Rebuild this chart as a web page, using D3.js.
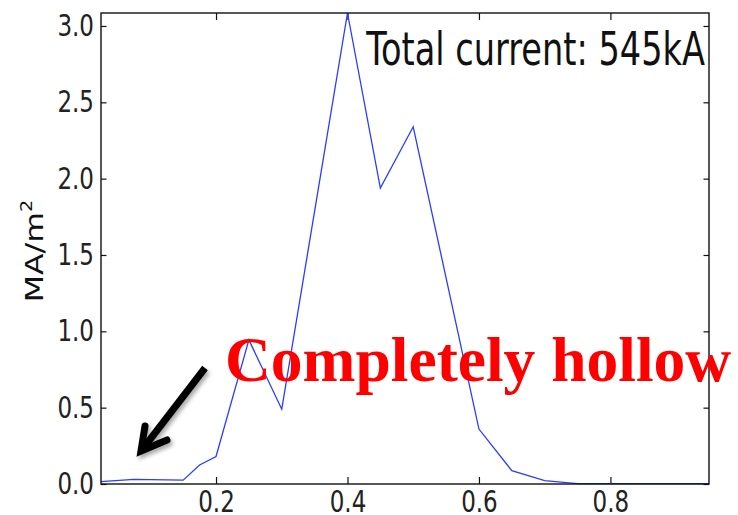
<!DOCTYPE html>
<html>
<head>
<meta charset="utf-8">
<script src="https://cdn.jsdelivr.net/npm/d3@7"></script>
<style>
  html, body { margin: 0; padding: 0; background: #fff; }
  svg { display: block; }
</style>
</head>
<body>
<svg id="chart" width="738" height="515"></svg>
<script>
// Radial profile of current density
const radius = [0.025, 0.075, 0.15, 0.175, 0.2, 0.25, 0.3, 0.4, 0.45, 0.5, 0.6, 0.65, 0.7, 0.75, 0.8, 0.85, 0.9, 0.95];
const density = [0.015, 0.03, 0.025, 0.125, 0.18, 0.944, 0.49, 3.085, 1.938, 2.34, 0.36, 0.087, 0.022, 0.003, 0.002, 0.002, 0.002, 0.002];
const xTicks = [0.2, 0.4, 0.6, 0.8];
const yTicks = [0.0, 0.5, 1.0, 1.5, 2.0, 2.5, 3.0];
const totalLabel = "Total current: 545kA";
const noteLabel = "Completely hollow";

const svg = d3.select("#chart");
const margin = { left: 101, right: 29, top: 13, bottom: 31 };
const W = 738, H = 515;
const plotW = W - margin.left - margin.right;
const plotH = H - margin.top - margin.bottom;

// The plot is drawn with a taller-than-wide text aspect
const stretch = 1.28;

const x = d3.scaleLinear().domain([0.025, 0.95]).range([0, plotW]);
const y = d3.scaleLinear().domain([0, 3.085]).range([plotH, 0]);

const g = svg.append("g").attr("transform", `translate(${margin.left},${margin.top})`);

const tickFont = "'DejaVu Sans', sans-serif";
const fmt = d3.format(".1f");

// Bottom axis with labels, inward ticks
const axBottom = g.append("g").attr("transform", `translate(0,${plotH})`)
  .call(d3.axisBottom(x).tickValues(xTicks).tickFormat(fmt).tickSizeInner(-7).tickSizeOuter(0));
// Top axis, ticks only
const axTop = g.append("g")
  .call(d3.axisTop(x).tickValues(xTicks).tickFormat("").tickSizeInner(-7).tickSizeOuter(0));
// Left axis with labels
const axLeft = g.append("g")
  .call(d3.axisLeft(y).tickValues(yTicks).tickFormat(fmt).tickSizeInner(-5.5).tickSizeOuter(0));
// Right axis, ticks only
const axRight = g.append("g").attr("transform", `translate(${plotW},0)`)
  .call(d3.axisRight(y).tickValues(yTicks).tickFormat("").tickSizeInner(-5.5).tickSizeOuter(0));

[axBottom, axTop, axLeft, axRight].forEach(a => {
  a.select(".domain").remove();
  a.selectAll(".tick line").attr("stroke", "#111").attr("stroke-width", 1.2);
  a.selectAll(".tick text")
    .attr("font-family", tickFont).attr("font-size", 23).attr("fill", "#222")
    .attr("x", null).attr("y", null).attr("dy", null);
});
axBottom.selectAll(".tick text")
  .attr("text-anchor", "middle")
  .attr("transform", `translate(0,27.5) scale(1,${stretch})`);
axLeft.selectAll(".tick text")
  .attr("text-anchor", "end")
  .attr("transform", `translate(-7,9.5) scale(1,${stretch})`);

// Curve
const line = d3.line().x((d, i) => x(radius[i])).y(d => y(d));

// Annotation text, placed beneath the curve
svg.append("text")
  .attr("x", 225)
  .attr("y", 381)
  .attr("font-family", "'Liberation Serif', 'Times New Roman', serif")
  .attr("font-weight", "bold")
  .attr("font-size", 63.5)
  .attr("fill", "#ff0000")
  .text(noteLabel);

g.append("path")
  .datum(density)
  .attr("d", line)
  .attr("fill", "none")
  .attr("stroke", "#2a3dff")
  .attr("stroke-width", 1.3)
  .attr("stroke-linejoin", "miter");

// Frame
g.append("rect")
  .attr("x", 0).attr("y", 0).attr("width", plotW).attr("height", plotH)
  .attr("fill", "none").attr("stroke", "#111").attr("stroke-width", 1.4);

// Total current label
svg.append("text")
  .attr("transform", `translate(705,65) scale(1,1.36)`)
  .attr("text-anchor", "end")
  .attr("font-family", tickFont)
  .attr("font-size", 33.6)
  .attr("fill", "#111")
  .text(totalLabel);

// Y axis title
svg.append("text")
  .attr("transform", `translate(43,251) rotate(-90) scale(${stretch},1)`)
  .attr("text-anchor", "middle")
  .attr("font-family", tickFont)
  .attr("font-size", 24.7)
  .attr("fill", "#111")
  .html('MA/m<tspan dy="-11" font-size="15">2</tspan>');

// Arrow pointing to the empty core
const defs = svg.append("defs");
const f = defs.append("filter").attr("id", "shadow").attr("x", "-30%").attr("y", "-30%").attr("width", "160%").attr("height", "160%");
f.append("feDropShadow").attr("dx", 2).attr("dy", 3).attr("stdDeviation", 2).attr("flood-color", "#000").attr("flood-opacity", 0.35);

const ax0 = 205, ay0 = 368, ax1 = 141, ay1 = 451;
const arrow = svg.append("g").attr("filter", "url(#shadow)");
arrow.append("line")
  .attr("x1", ax0).attr("y1", ay0).attr("x2", ax1 + 4).attr("y2", ay1 - 5)
  .attr("stroke", "#000").attr("stroke-width", 7).attr("stroke-linecap", "butt");
arrow.append("path")
  .attr("d", `M${145},${426} L${ax1},${ay1} L${167},${440}`)
  .attr("fill", "none").attr("stroke", "#000").attr("stroke-width", 7)
  .attr("stroke-linecap", "round").attr("stroke-linejoin", "miter");
</script>
</body>
</html>
